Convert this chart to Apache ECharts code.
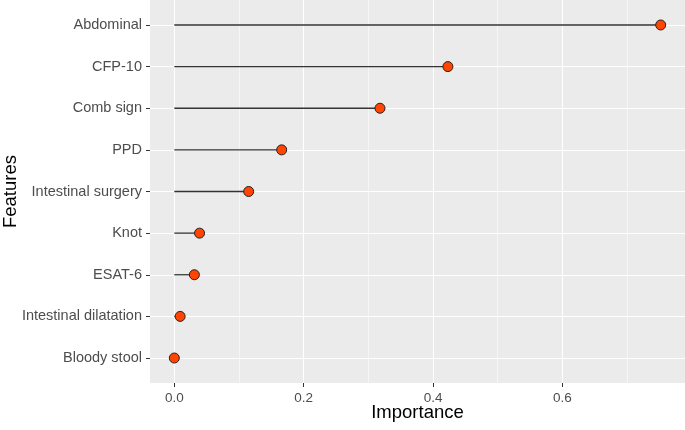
<!DOCTYPE html>
<html>
<head>
<meta charset="utf-8">
<script src="https://cdn.jsdelivr.net/npm/echarts@6/dist/echarts.min.js"></script>
<style>
  html, body { margin: 0; padding: 0; background: #fff; }
  #chart { width: 685px; height: 430px; }
</style>
</head>
<body>
<div id="chart"></div>
<script>
// features, top to bottom as in the plot
const features = ['Abdominal', 'CFP-10', 'Comb sign', 'PPD', 'Intestinal surgery',
  'Knot', 'ESAT-6', 'Intestinal dilatation', 'Bloody stool']
const importance = [0.752, 0.423, 0.318, 0.166, 0.115, 0.039, 0.031, 0.009, 0.0]
const xTicks = [0, 0.2, 0.4, 0.6]
const xMinor = [0.1, 0.3, 0.5, 0.7]

const n = features.length
// y position: bottom feature at 0
const points = importance.map((v, i) => [v, n - 1 - i])
const yTicks = features.map((f, i) => i)

const font = 'Liberation Sans, Arial, sans-serif'
let chart = echarts.init(document.getElementById('chart'))
let option = {
  animation: false,
  grid: {
    left: 150,
    right: 0,
    top: 0,
    bottom: 47,
    outerBoundsMode: 'none',
    containLabel: false,
    show: true,
    backgroundColor: '#EBEBEB',
    borderWidth: 0
  },
  xAxis: [
    {
      type: 'value',
      min: -0.0376,
      max: 0.7896,
      name: 'Importance',
      nameLocation: 'middle',
      nameMoveOverlap: false,
      nameGap: 20,
      nameTextStyle: { color: '#000', fontSize: 18.5, fontFamily: font },
      axisLine: { show: false, onZero: false },
      axisTick: { show: true, length: 4, lineStyle: { color: '#333' }, customValues: xTicks },
      axisLabel: {
        color: '#4D4D4D', fontSize: 13.5, fontFamily: font, margin: 8,
        customValues: xTicks,
        formatter: v => v.toFixed(1)
      },
      splitLine: { show: true, lineStyle: { color: '#fff', width: 1.1 } }
    },
    {
      // minor grid lines
      type: 'value',
      min: -0.0376,
      max: 0.7896,
      position: 'bottom',
      axisLine: { show: false, onZero: false },
      axisTick: { show: false, customValues: xMinor },
      axisLabel: { show: false, customValues: xMinor },
      splitLine: { show: true, lineStyle: { color: '#fff', width: 0.55 } }
    }
  ],
  yAxis: {
    type: 'value',
    min: -0.6,
    max: n - 1 + 0.6,
    name: 'Features',
    nameLocation: 'middle',
    nameMoveOverlap: false,
    nameGap: 130,
    nameTextStyle: { color: '#000', fontSize: 18.5, fontFamily: font },
    axisLine: { show: false, onZero: false },
    axisTick: { show: true, length: 4, lineStyle: { color: '#333' }, customValues: yTicks },
    axisLabel: {
      color: '#4D4D4D', fontSize: 14.5, fontFamily: font, margin: 8,
      customValues: yTicks,
      formatter: v => features[n - 1 - Math.round(v)]
    },
    splitLine: { show: true, lineStyle: { color: '#fff', width: 1.1 } }
  },
  series: [
    {
      // lollipop sticks
      type: 'custom',
      data: points,
      renderItem: function (params, api) {
        let start = api.coord([0, api.value(1)])
        let end = api.coord([api.value(0), api.value(1)])
        return {
          type: 'line',
          shape: { x1: start[0], y1: start[1], x2: end[0], y2: end[1] },
          style: { stroke: '#333', lineWidth: 1.3 }
        }
      }
    },
    {
      type: 'scatter',
      data: points,
      symbolSize: 10,
      itemStyle: { color: '#FF4500', borderColor: '#222', borderWidth: 1, opacity: 1 }
    }
  ]
}
chart.setOption(option)
</script>
</body>
</html>
